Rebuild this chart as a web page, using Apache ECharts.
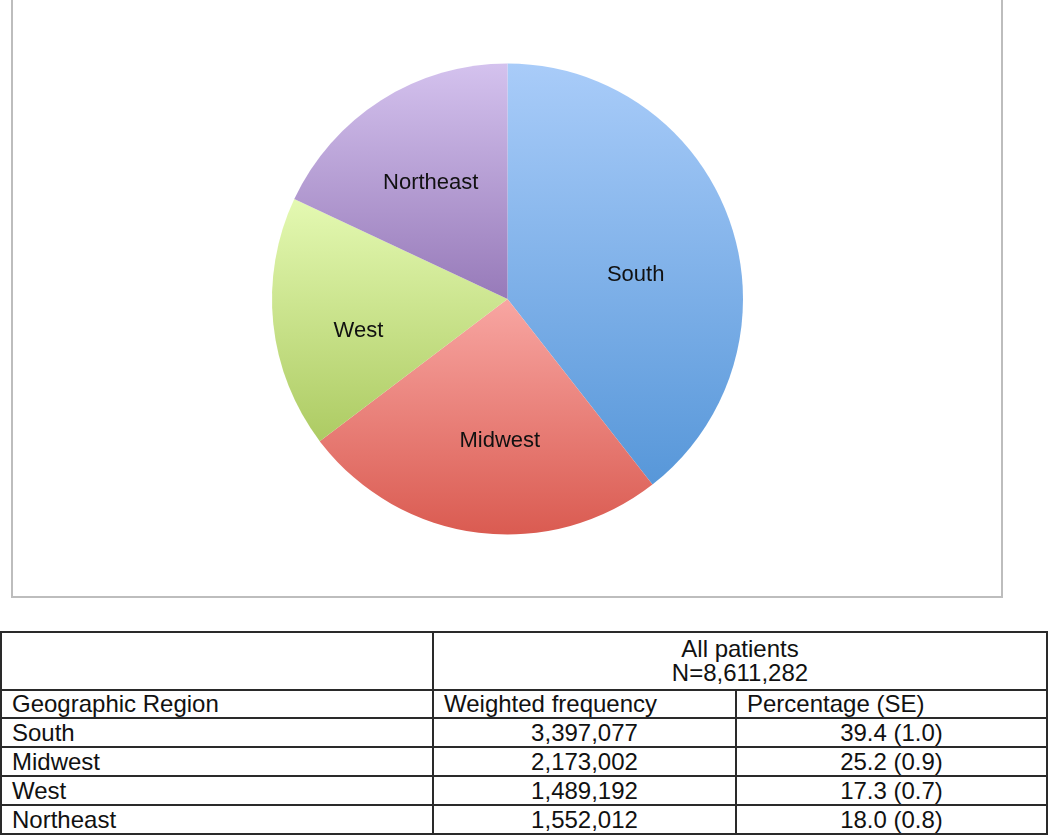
<!DOCTYPE html>
<html>
<head>
<meta charset="utf-8">
<script src="https://cdn.jsdelivr.net/npm/echarts@6.0.0/dist/echarts.min.js"></script>
<style>
  html, body { margin: 0; padding: 0; background: #fff; }
  body { width: 1050px; height: 836px; position: relative; overflow: hidden; font-family: "Liberation Sans", Arial, sans-serif; }
  #chart { position: absolute; left: 0; top: 0; width: 1050px; height: 610px; }
  #tbl { position: absolute; left: 0; top: 631px; width: 1048px; border-collapse: collapse; font-size: 24px; color: #111; }
  #tbl td { border: 2px solid #2a2a2a; padding: 0 10px; line-height: 24px; white-space: nowrap; }
  #tbl .c { text-align: center; }
</style>
</head>
<body>
<div id="chart"></div>
<table id="tbl"></table>
<script>
// regions, clockwise from 12 o'clock
var regions = ['South', 'Midwest', 'West', 'Northeast'];
var weighted = [3397077, 2173002, 1489192, 1552012];
var percentSE = ['39.4 (1.0)', '25.2 (0.9)', '17.3 (0.7)', '18.0 (0.8)'];
var totalN = 'N=8,611,282';

// gradient colours (top, bottom) per slice
var topColors = ['#a9ccf9', '#f8a6a2', '#e4f9b2', '#d4c2ee'];
var bottomColors = ['#5797d9', '#da5b51', '#adcb63', '#977ab9'];
// nudge labels to where the original put them
var labelShift = [[14, 15], [8, 22], [-29, 19], [-12, -14]];

var myChart = echarts.init(document.getElementById('chart'));

var pieData = regions.map(function (name, i) {
    return {
        name: name,
        value: weighted[i],
        itemStyle: {
            color: new echarts.graphic.LinearGradient(0, 0, 0, 1, [
                { offset: 0, color: topColors[i] },
                { offset: 1, color: bottomColors[i] }
            ])
        }
    };
});

var option = {
    animation: false,
    graphic: [{
        type: 'rect',
        shape: { x: 12, y: -4, width: 990, height: 601 },
        style: { fill: 'none', stroke: '#bdbdbd', lineWidth: 2 }
    }],
    series: [{
        type: 'pie',
        center: [507.5, 299],
        radius: [0, 235.5],
        startAngle: 90,
        clockwise: true,
        itemStyle: { borderWidth: 0 },
        label: {
            position: 'inner',
            formatter: '{b}',
            color: '#111',
            fontSize: 22,
            fontFamily: '"Liberation Sans", Arial, sans-serif'
        },
        labelLine: { show: false },
        labelLayout: function (params) {
            var s = labelShift[params.dataIndex];
            return { dx: s[0], dy: s[1] };
        },
        emphasis: { disabled: true },
        data: pieData
    }]
};
myChart.setOption(option);

// table below the chart
var tbl = document.getElementById('tbl');
var html = '';
html += '<tr style="height:58px"><td style="width:410px"></td><td class="c" colspan="2">All patients<br>' + totalN + '</td></tr>';
html += '<tr style="height:28px"><td>Geographic Region</td><td style="width:281px">Weighted frequency</td><td>Percentage (SE)</td></tr>';
regions.forEach(function (r, i) {
    html += '<tr style="height:29px"><td>' + r + '</td><td class="c">' +
        weighted[i].toLocaleString('en-US') + '</td><td class="c">' + percentSE[i] + '</td></tr>';
});
tbl.innerHTML = html;
</script>
</body>
</html>
